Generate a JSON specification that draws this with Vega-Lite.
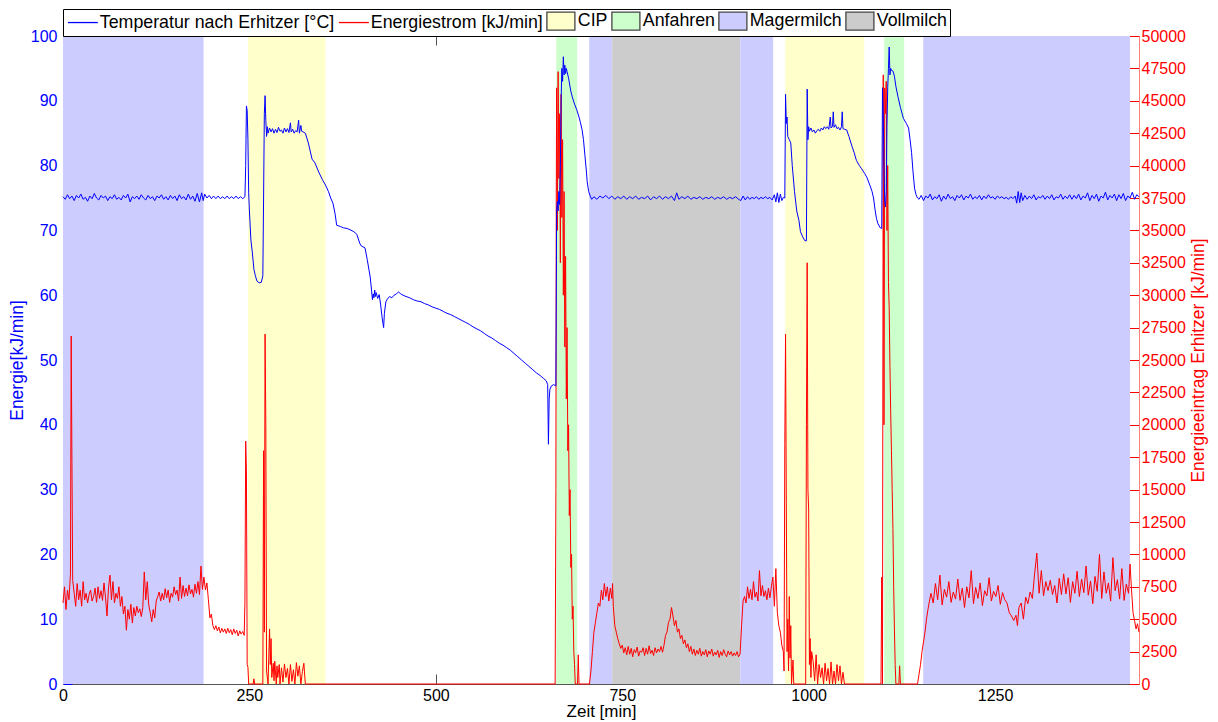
{
  "$schema": "https://vega.github.io/schema/vega-lite/v6.json",
  "width": 1076,
  "height": 648,
  "autosize": {"type": "none"},
  "padding": {"left": 63, "top": 36, "right": 79, "bottom": 38},
  "background": "#ffffff",
  "config": {
    "view": {"stroke": "#333333", "strokeWidth": 1},
    "font": "Liberation Sans",
    "axis": {
      "labelFont": "Liberation Sans",
      "titleFont": "Liberation Sans",
      "labelFontSize": 16,
      "titleFontSize": 17.5,
      "titleFontWeight": "normal",
      "grid": false,
      "labelFlush": false,
      "labelOverlap": false
    },
    "legend": {
      "title": null,
      "padding": 3,
      "strokeColor": "#000000",
      "fillColor": "#ffffff",
      "labelFont": "Liberation Sans",
      "labelFontSize": 17.8,
      "labelColor": "#000000",
      "labelLimit": 0,
      "symbolSize": 196,
      "symbolOffset": 8,
      "labelOffset": 8,
      "columnPadding": 1,
      "symbolStrokeWidth": 1.3,
      "symbolOpacity": 1
    }
  },
  "datasets": {
    "bands": [
      {"phase": "Magermilch", "start": 0, "end": 188.5},
      {"phase": "CIP", "start": 248, "end": 352},
      {"phase": "Anfahren", "start": 661.5, "end": 689.5},
      {"phase": "Magermilch", "start": 705.7, "end": 736.5},
      {"phase": "Vollmilch", "start": 736.5, "end": 908.2},
      {"phase": "Magermilch", "start": 908.2, "end": 952.4},
      {"phase": "CIP", "start": 968.5, "end": 1074.5},
      {"phase": "Anfahren", "start": 1101.3, "end": 1128.1},
      {"phase": "Magermilch", "start": 1153.6, "end": 1431}
    ],
    "temp": [
      {"t":0,"v":75.2},{"t":3,"v":74.8},{"t":6,"v":75.5},{"t":9,"v":74.9},{"t":12,"v":75.3},{"t":15,"v":74.6},{"t":18,"v":75.4},{"t":21,"v":75},{"t":24,"v":75.6},{"t":27,"v":74.8},{"t":30,"v":75.1},{"t":33,"v":74.5},{"t":36,"v":75.3},{"t":39,"v":74.9},{"t":42,"v":75.7},{"t":45,"v":75},{"t":48,"v":74.7},{"t":51,"v":75.4},{"t":54,"v":75},{"t":57,"v":75.3},{"t":60,"v":74.6},{"t":63,"v":75.2},{"t":66,"v":74.9},{"t":69,"v":75.5},{"t":72,"v":74.8},{"t":75,"v":75.1},{"t":78,"v":74.7},{"t":81,"v":75.4},{"t":84,"v":75},{"t":87,"v":75.6},{"t":90,"v":74.4},{"t":93,"v":75.2},{"t":96,"v":74.9},{"t":99,"v":75.3},{"t":102,"v":74.8},{"t":105,"v":75.5},{"t":108,"v":75},{"t":111,"v":74.7},{"t":114,"v":75.4},{"t":117,"v":74.9},{"t":120,"v":75.2},{"t":123,"v":74.6},{"t":126,"v":75.3},{"t":129,"v":75},{"t":132,"v":75.5},{"t":135,"v":74.8},{"t":138,"v":75.2},{"t":141,"v":74.7},{"t":144,"v":75.4},{"t":147,"v":74.9},{"t":150,"v":75.3},{"t":153,"v":74.6},{"t":156,"v":75.5},{"t":159,"v":74.9},{"t":162,"v":75.2},{"t":165,"v":74.7},{"t":168,"v":75.6},{"t":171,"v":74.8},{"t":174,"v":75.3},{"t":177,"v":74.5},{"t":180,"v":75.7},{"t":183,"v":74.4},{"t":186,"v":75.8},{"t":188,"v":74.6},{"t":190,"v":75.6},{"t":193,"v":75},{"t":196,"v":75.4},{"t":199,"v":74.9},{"t":202,"v":75.3},{"t":205,"v":74.9},{"t":208,"v":75.3},{"t":211,"v":74.9},{"t":214,"v":75.2},{"t":217,"v":74.9},{"t":220,"v":75.3},{"t":223,"v":74.9},{"t":226,"v":75.2},{"t":229,"v":74.9},{"t":232,"v":75.3},{"t":235,"v":74.9},{"t":238,"v":75.2},{"t":241,"v":74.9},{"t":244,"v":75.2},
      {"t":245,"v":80},{"t":246,"v":89.2},{"t":247,"v":88.5},{"t":248,"v":84},{"t":249,"v":75.8},{"t":250,"v":73},{"t":252,"v":68.5},{"t":254,"v":66.5},{"t":256,"v":64},{"t":258,"v":63},{"t":260,"v":62.2},{"t":263,"v":61.9},{"t":266,"v":62},{"t":268,"v":63},{"t":269,"v":75},{"t":270,"v":88},{"t":271,"v":90.8},{"t":272,"v":87},{"t":273,"v":84.5},{"t":274,"v":86},{"t":275,"v":85},{"t":277,"v":85.8},{"t":279,"v":85.2},{"t":281,"v":85.7},{"t":283,"v":85},{"t":285,"v":85.6},{"t":287,"v":85.1},{"t":289,"v":85.9},{"t":291,"v":85.3},{"t":293,"v":85.5},{"t":295,"v":85},{"t":297,"v":85.8},{"t":299,"v":85.2},{"t":301,"v":85.7},{"t":303,"v":85.1},{"t":305,"v":86.6},{"t":306,"v":85.2},{"t":308,"v":85.6},{"t":310,"v":85},{"t":312,"v":85.4},{"t":314,"v":85.2},{"t":316,"v":87},{"t":317,"v":85},{"t":319,"v":86.2},{"t":320,"v":85.3},{"t":322,"v":85.2},{"t":325,"v":85},{"t":329,"v":83.5},{"t":334,"v":81},{"t":338,"v":80.4},{"t":343,"v":79},{"t":348,"v":77.8},{"t":352,"v":77},{"t":356,"v":76},{"t":359,"v":75},{"t":362,"v":74.2},{"t":365,"v":72.5},{"t":367,"v":70.8},{"t":372,"v":70.6},{"t":376,"v":70.4},{"t":381,"v":70.3},{"t":385,"v":70.1},{"t":390,"v":69.8},{"t":394,"v":69.4},{"t":398,"v":68},{"t":400,"v":67.6},{"t":405,"v":67.3},{"t":408,"v":65.5},{"t":412,"v":62.8},{"t":414,"v":60.5},{"t":415,"v":59.3},{"t":416,"v":60.2},{"t":417,"v":59.6},{"t":418,"v":60.8},{"t":419,"v":59.8},{"t":420,"v":60.4},{"t":422,"v":59.5},{"t":424,"v":60.1},{"t":426,"v":58.5},{"t":428,"v":56.5},{"t":430,"v":55},{"t":431,"v":57.2},{"t":433,"v":59},{"t":435,"v":59.4},{"t":438,"v":59.8},{"t":441,"v":59.6},{"t":444,"v":60},{"t":447,"v":60.2},{"t":450,"v":60.5},{"t":453,"v":60.2},{"t":456,"v":60},{"t":460,"v":59.8},{"t":465,"v":59.6},{"t":470,"v":59.3},{"t":475,"v":59.1},{"t":480,"v":59},{"t":485,"v":58.7},{"t":490,"v":58.5},{"t":495,"v":58.2},{"t":500,"v":58},{"t":505,"v":57.8},{"t":510,"v":57.5},{"t":515,"v":57.2},{"t":520,"v":57},{"t":525,"v":56.7},{"t":530,"v":56.4},{"t":535,"v":56.1},{"t":540,"v":55.8},{"t":545,"v":55.5},{"t":550,"v":55.1},{"t":555,"v":54.8},{"t":560,"v":54.5},{"t":565,"v":54.1},{"t":570,"v":53.7},{"t":575,"v":53.4},{"t":580,"v":53},{"t":585,"v":52.6},{"t":590,"v":52.3},{"t":595,"v":51.9},{"t":600,"v":51.5},{"t":605,"v":51},{"t":610,"v":50.5},{"t":615,"v":50},{"t":620,"v":49.5},{"t":625,"v":49},{"t":630,"v":48.5},{"t":635,"v":48},{"t":640,"v":47.6},{"t":644,"v":47.2},{"t":648,"v":46.8},{"t":650,"v":46.2},{"t":651,"v":37},{"t":652,"v":44},{"t":653,"v":45.5},{"t":655,"v":46},{"t":658,"v":46.2},{"t":661,"v":46},{"t":662,"v":73},{"t":663,"v":74.5},{"t":664,"v":73},{"t":665,"v":76},{"t":666,"v":74},{"t":667,"v":80},{"t":668,"v":90},{"t":669,"v":95},{"t":670,"v":93},{"t":671,"v":96.8},{"t":672,"v":94},{"t":673,"v":95.5},{"t":674,"v":94.2},{"t":675,"v":95},{"t":676,"v":94.5},{"t":678,"v":93.5},{"t":681,"v":91.5},{"t":683,"v":90.6},{"t":686,"v":89.5},{"t":689,"v":88.6},{"t":692,"v":87.5},{"t":694,"v":86.6},{"t":696,"v":85.6},{"t":698,"v":84},{"t":700,"v":81.5},{"t":702,"v":79},{"t":703,"v":77.5},{"t":705,"v":76},{"t":707,"v":75.3},{"t":709,"v":74.8},
      {"t":712,"v":75.2},{"t":716,"v":74.8},{"t":720,"v":75.3},{"t":724,"v":75},{"t":728,"v":75.4},{"t":732,"v":74.9},{"t":736,"v":75.3},{"t":740,"v":74.8},{"t":744,"v":75.2},{"t":748,"v":74.9},{"t":752,"v":75.3},{"t":756,"v":74.8},{"t":760,"v":75.2},{"t":764,"v":74.9},{"t":768,"v":75.3},{"t":772,"v":74.8},{"t":776,"v":75.1},{"t":780,"v":74.9},{"t":784,"v":75.3},{"t":788,"v":74.7},{"t":792,"v":75.2},{"t":796,"v":74.9},{"t":800,"v":75.3},{"t":804,"v":74.8},{"t":808,"v":75.2},{"t":812,"v":74.9},{"t":816,"v":75.3},{"t":820,"v":74.6},{"t":823,"v":75.8},{"t":826,"v":74.8},{"t":830,"v":75.2},{"t":834,"v":74.9},{"t":838,"v":75.3},{"t":842,"v":74.8},{"t":846,"v":75.1},{"t":850,"v":74.9},{"t":854,"v":75.2},{"t":858,"v":74.8},{"t":862,"v":75.1},{"t":866,"v":74.9},{"t":870,"v":75.2},{"t":874,"v":74.8},{"t":878,"v":75.1},{"t":882,"v":74.9},{"t":886,"v":75.2},{"t":890,"v":74.8},{"t":894,"v":75.1},{"t":898,"v":74.9},{"t":902,"v":75.2},{"t":906,"v":74.8},{"t":909,"v":74.6},{"t":912,"v":75.3},{"t":915,"v":74.7},{"t":918,"v":75.2},{"t":921,"v":74.8},{"t":924,"v":75.1},{"t":927,"v":74.9},{"t":930,"v":75.2},{"t":933,"v":74.8},{"t":936,"v":75.1},{"t":939,"v":74.9},{"t":942,"v":75.2},{"t":945,"v":74.9},{"t":948,"v":75.1},{"t":951,"v":74.7},{"t":954,"v":75.5},{"t":956,"v":74.4},{"t":958,"v":75.8},{"t":960,"v":74.3},{"t":962,"v":75.6},{"t":964,"v":74.6},{"t":966,"v":75.1},{"t":968,"v":75},
      {"t":969,"v":91},{"t":970,"v":86.5},{"t":971,"v":87.5},{"t":972,"v":84.5},{"t":974,"v":84},{"t":976,"v":83.5},{"t":978,"v":80},{"t":981,"v":76},{"t":984,"v":73},{"t":987,"v":71.5},{"t":989,"v":69.8},{"t":992,"v":69},{"t":995,"v":68.4},{"t":997,"v":68.4},{"t":998,"v":91.8},{"t":999,"v":84},{"t":1000,"v":86},{"t":1001,"v":85.3},{"t":1003,"v":85.8},{"t":1005,"v":85.2},{"t":1007,"v":85.5},{"t":1009,"v":85},{"t":1011,"v":85.4},{"t":1013,"v":85.6},{"t":1015,"v":85.3},{"t":1017,"v":85.8},{"t":1019,"v":85.5},{"t":1021,"v":86},{"t":1023,"v":85.7},{"t":1025,"v":86},{"t":1027,"v":85.6},{"t":1029,"v":87.5},{"t":1030,"v":85.8},{"t":1032,"v":86.1},{"t":1033,"v":88.3},{"t":1034,"v":85.9},{"t":1036,"v":86.3},{"t":1038,"v":85.7},{"t":1040,"v":85.9},{"t":1042,"v":85.5},{"t":1044,"v":86},{"t":1045,"v":88.3},{"t":1046,"v":85.7},{"t":1048,"v":85.6},{"t":1051,"v":85.5},{"t":1054,"v":84.5},{"t":1058,"v":83},{"t":1061,"v":82},{"t":1064,"v":80.8},{"t":1068,"v":80},{"t":1071,"v":79.5},{"t":1075,"v":78.8},{"t":1078,"v":78.2},{"t":1081,"v":77.3},{"t":1083,"v":76.7},{"t":1085,"v":76},{"t":1087,"v":75},{"t":1089,"v":73.2},{"t":1091,"v":71.8},{"t":1093,"v":71},{"t":1096,"v":70.4},{"t":1098,"v":70.3},{"t":1099,"v":92},{"t":1100,"v":88},{"t":1101,"v":80},{"t":1102,"v":74.5},{"t":1103,"v":73.6},{"t":1104,"v":76},{"t":1105,"v":86},{"t":1106,"v":92},{"t":1107,"v":95},{"t":1108,"v":98.3},{"t":1109,"v":94},{"t":1110,"v":95},{"t":1111,"v":94.7},{"t":1113,"v":94.6},{"t":1115,"v":93.8},{"t":1117,"v":92.2},{"t":1120,"v":90.5},{"t":1123,"v":89},{"t":1127,"v":87.3},{"t":1131,"v":86.5},{"t":1134,"v":85.8},{"t":1136,"v":84},{"t":1138,"v":82},{"t":1140,"v":79},{"t":1142,"v":76.5},{"t":1144,"v":75.5},{"t":1146,"v":75},
      {"t":1148,"v":74.8},{"t":1151,"v":75.4},{"t":1154,"v":74.6},{"t":1157,"v":75.3},{"t":1160,"v":75},{"t":1163,"v":75.6},{"t":1166,"v":74.7},{"t":1169,"v":75.2},{"t":1172,"v":74.9},{"t":1175,"v":75.5},{"t":1178,"v":74.5},{"t":1181,"v":75.3},{"t":1184,"v":74.8},{"t":1187,"v":75.6},{"t":1190,"v":74.9},{"t":1193,"v":75.2},{"t":1196,"v":74.6},{"t":1199,"v":75.4},{"t":1202,"v":75},{"t":1205,"v":75.5},{"t":1208,"v":74.7},{"t":1211,"v":75.3},{"t":1214,"v":75},{"t":1217,"v":75.6},{"t":1220,"v":74.8},{"t":1223,"v":75.2},{"t":1226,"v":74.9},{"t":1229,"v":75.4},{"t":1232,"v":74.7},{"t":1235,"v":75.3},{"t":1238,"v":74.9},{"t":1241,"v":75.5},{"t":1244,"v":75},{"t":1247,"v":75.2},{"t":1250,"v":74.8},{"t":1253,"v":75.3},{"t":1256,"v":75},{"t":1259,"v":75.2},{"t":1262,"v":74.9},{"t":1265,"v":75.1},{"t":1268,"v":74.8},{"t":1271,"v":75.2},{"t":1274,"v":74.9},{"t":1277,"v":75.3},{"t":1279,"v":74.2},{"t":1281,"v":76},{"t":1283,"v":74.3},{"t":1285,"v":75.8},{"t":1287,"v":74.6},{"t":1290,"v":75.4},{"t":1293,"v":74.8},{"t":1296,"v":75.3},{"t":1299,"v":74.9},{"t":1302,"v":75.5},{"t":1305,"v":74.7},{"t":1308,"v":75.2},{"t":1311,"v":75},{"t":1314,"v":75.4},{"t":1317,"v":74.8},{"t":1320,"v":75.3},{"t":1323,"v":74.9},{"t":1326,"v":75.5},{"t":1329,"v":74.7},{"t":1332,"v":75.2},{"t":1335,"v":75},{"t":1338,"v":75.6},{"t":1341,"v":74.8},{"t":1344,"v":75.3},{"t":1347,"v":74.9},{"t":1350,"v":75.5},{"t":1353,"v":74.8},{"t":1356,"v":75.4},{"t":1359,"v":74.9},{"t":1362,"v":75.6},{"t":1365,"v":74.7},{"t":1368,"v":75.3},{"t":1371,"v":75},{"t":1374,"v":75.8},{"t":1377,"v":74.6},{"t":1380,"v":75.4},{"t":1383,"v":74.9},{"t":1386,"v":75.6},{"t":1389,"v":74.5},{"t":1392,"v":75.3},{"t":1395,"v":75},{"t":1398,"v":75.9},{"t":1401,"v":74.7},{"t":1404,"v":75.4},{"t":1407,"v":75},{"t":1410,"v":75.6},{"t":1413,"v":74.6},{"t":1416,"v":75.5},{"t":1419,"v":74.9},{"t":1422,"v":75.7},{"t":1425,"v":74.6},{"t":1428,"v":75.3},{"t":1431,"v":75},{"t":1434,"v":75.9},{"t":1437,"v":74.8},{"t":1440,"v":75.5},{"t":1443,"v":75.2}
    ],
    "energy": [
      {"t":0,"v":6250},{"t":2,"v":7500},{"t":4,"v":5750},{"t":6,"v":7250},{"t":8,"v":6500},{"t":10,"v":8500},{"t":11,"v":26850},{"t":12,"v":17000},{"t":13,"v":8000},{"t":15,"v":7000},{"t":17,"v":6000},{"t":19,"v":7750},{"t":21,"v":6500},{"t":23,"v":7250},{"t":25,"v":6000},{"t":27,"v":7900},{"t":29,"v":6500},{"t":31,"v":7000},{"t":33,"v":6250},{"t":35,"v":6900},{"t":37,"v":7250},{"t":39,"v":6400},{"t":41,"v":6750},{"t":43,"v":7400},{"t":45,"v":6300},{"t":47,"v":7500},{"t":49,"v":6600},{"t":51,"v":7200},{"t":53,"v":6450},{"t":55,"v":7800},{"t":57,"v":6700},{"t":59,"v":5250},{"t":61,"v":7400},{"t":63,"v":8400},{"t":65,"v":6500},{"t":67,"v":7900},{"t":69,"v":6250},{"t":71,"v":7000},{"t":73,"v":6600},{"t":75,"v":7500},{"t":77,"v":6000},{"t":79,"v":6750},{"t":81,"v":5400},{"t":83,"v":6000},{"t":85,"v":4150},{"t":87,"v":5750},{"t":89,"v":5000},{"t":91,"v":6150},{"t":93,"v":4700},{"t":95,"v":5900},{"t":97,"v":5250},{"t":99,"v":6000},{"t":101,"v":5500},{"t":103,"v":5800},{"t":105,"v":5200},{"t":107,"v":5900},{"t":109,"v":8650},{"t":111,"v":6500},{"t":113,"v":7900},{"t":115,"v":6100},{"t":117,"v":5500},{"t":119,"v":4800},{"t":121,"v":5750},{"t":123,"v":5100},{"t":125,"v":6400},{"t":127,"v":6750},{"t":129,"v":7100},{"t":131,"v":6400},{"t":133,"v":7000},{"t":135,"v":6500},{"t":137,"v":7350},{"t":139,"v":6650},{"t":141,"v":7250},{"t":143,"v":6300},{"t":145,"v":7000},{"t":147,"v":6700},{"t":149,"v":7500},{"t":151,"v":6900},{"t":153,"v":7250},{"t":155,"v":6400},{"t":157,"v":8250},{"t":159,"v":6600},{"t":161,"v":7600},{"t":163,"v":6750},{"t":165,"v":7400},{"t":167,"v":6800},{"t":169,"v":7650},{"t":171,"v":6950},{"t":173,"v":7300},{"t":175,"v":6700},{"t":177,"v":7700},{"t":179,"v":7000},{"t":181,"v":7900},{"t":183,"v":6900},{"t":185,"v":9100},{"t":187,"v":7300},{"t":189,"v":8250},{"t":191,"v":7250},{"t":193,"v":7800},{"t":195,"v":6500},{"t":197,"v":5100},{"t":199,"v":5400},{"t":201,"v":4500},{"t":203,"v":4200},{"t":205,"v":4500},{"t":207,"v":4100},{"t":209,"v":4400},{"t":211,"v":3950},{"t":213,"v":4300},{"t":215,"v":4000},{"t":217,"v":4250},{"t":219,"v":3900},{"t":221,"v":4300},{"t":223,"v":3950},{"t":225,"v":4200},{"t":227,"v":3800},{"t":229,"v":4250},{"t":231,"v":3900},{"t":233,"v":4150},{"t":235,"v":3700},{"t":237,"v":4100},{"t":239,"v":3850},{"t":241,"v":4050},{"t":243,"v":3750},{"t":244,"v":6400},{"t":245,"v":18750},{"t":246,"v":16500},{"t":247,"v":1500},{"t":248,"v":1300},{"t":249,"v":0},{"t":255,"v":0},{"t":256,"v":400},{"t":257,"v":0},{"t":268,"v":0},{"t":269,"v":18000},{"t":270,"v":4000},{"t":271,"v":27000},{"t":272,"v":20000},{"t":273,"v":1000},{"t":275,"v":0},{"t":277,"v":4250},{"t":278,"v":1500},{"t":279,"v":3500},{"t":280,"v":500},{"t":282,"v":1600},{"t":283,"v":250},{"t":284,"v":1750},{"t":286,"v":0},{"t":287,"v":1400},{"t":288,"v":500},{"t":290,"v":1500},{"t":291,"v":0},{"t":293,"v":1250},{"t":295,"v":150},{"t":297,"v":1550},{"t":299,"v":500},{"t":301,"v":1200},{"t":303,"v":0},{"t":305,"v":1500},{"t":307,"v":200},{"t":309,"v":1100},{"t":311,"v":0},{"t":313,"v":1650},{"t":315,"v":600},{"t":317,"v":1400},{"t":319,"v":0},{"t":321,"v":950},{"t":323,"v":1600},{"t":325,"v":0},{"t":660,"v":0},
      {"t":661,"v":15000},{"t":661.5,"v":37500},{"t":662,"v":46000},{"t":663,"v":35000},{"t":664,"v":47250},{"t":665,"v":39000},{"t":666,"v":44000},{"t":667,"v":32500},{"t":668,"v":45500},{"t":669,"v":36000},{"t":670,"v":42000},{"t":671,"v":30000},{"t":672,"v":38000},{"t":673,"v":26000},{"t":674,"v":33000},{"t":675,"v":22000},{"t":676,"v":27500},{"t":677,"v":18000},{"t":678,"v":20000},{"t":679,"v":13000},{"t":680,"v":15000},{"t":681,"v":9000},{"t":682,"v":10000},{"t":683,"v":5000},{"t":684,"v":6000},{"t":685,"v":2500},{"t":686,"v":1500},{"t":687,"v":0},{"t":690,"v":0},{"t":691,"v":2250},{"t":692,"v":0},{"t":706,"v":0},{"t":708,"v":1000},{"t":710,"v":2500},{"t":712,"v":4000},{"t":714,"v":4750},{"t":716,"v":5500},{"t":718,"v":6250},{"t":720,"v":6000},{"t":722,"v":7250},{"t":724,"v":6500},{"t":726,"v":7750},{"t":728,"v":6750},{"t":730,"v":7500},{"t":732,"v":6400},{"t":734,"v":7400},{"t":736,"v":6600},{"t":737,"v":7750},{"t":738,"v":6000},{"t":740,"v":4500},{"t":742,"v":4000},{"t":744,"v":3500},{"t":746,"v":3100},{"t":748,"v":2750},{"t":750,"v":3000},{"t":752,"v":2400},{"t":754,"v":2800},{"t":756,"v":2250},{"t":758,"v":2900},{"t":760,"v":2300},{"t":762,"v":2750},{"t":764,"v":2100},{"t":766,"v":2650},{"t":768,"v":2400},{"t":770,"v":2850},{"t":772,"v":2150},{"t":774,"v":2550},{"t":776,"v":2450},{"t":778,"v":2800},{"t":780,"v":2200},{"t":782,"v":2750},{"t":784,"v":2300},{"t":786,"v":2950},{"t":788,"v":2350},{"t":790,"v":2600},{"t":792,"v":2200},{"t":794,"v":2800},{"t":796,"v":2400},{"t":798,"v":2700},{"t":800,"v":2500},{"t":802,"v":2900},{"t":804,"v":2450},{"t":806,"v":3000},{"t":808,"v":3750},{"t":810,"v":4000},{"t":812,"v":4750},{"t":814,"v":5000},{"t":816,"v":5900},{"t":818,"v":5250},{"t":820,"v":4500},{"t":822,"v":4900},{"t":824,"v":4000},{"t":826,"v":4250},{"t":828,"v":3500},{"t":830,"v":3750},{"t":832,"v":3100},{"t":834,"v":3400},{"t":836,"v":2800},{"t":838,"v":3100},{"t":840,"v":2500},{"t":842,"v":2900},{"t":844,"v":2300},{"t":846,"v":2700},{"t":848,"v":2200},{"t":850,"v":2600},{"t":852,"v":2300},{"t":854,"v":2750},{"t":856,"v":2150},{"t":858,"v":2500},{"t":860,"v":2250},{"t":862,"v":2650},{"t":864,"v":2100},{"t":866,"v":2550},{"t":868,"v":2300},{"t":870,"v":2700},{"t":872,"v":2150},{"t":874,"v":2450},{"t":876,"v":2250},{"t":878,"v":2600},{"t":880,"v":2050},{"t":882,"v":2500},{"t":884,"v":2200},{"t":886,"v":2650},{"t":888,"v":2300},{"t":890,"v":2100},{"t":892,"v":2550},{"t":894,"v":2250},{"t":896,"v":2500},{"t":898,"v":2150},{"t":900,"v":2400},{"t":902,"v":2200},{"t":904,"v":2500},{"t":906,"v":2100},{"t":908,"v":2300},{"t":910,"v":4500},{"t":912,"v":6400},{"t":914,"v":6750},{"t":916,"v":6250},{"t":918,"v":7500},{"t":920,"v":6600},{"t":922,"v":7300},{"t":924,"v":6500},{"t":926,"v":7900},{"t":928,"v":6700},{"t":930,"v":7100},{"t":932,"v":6400},{"t":934,"v":8750},{"t":936,"v":6800},{"t":938,"v":7600},{"t":940,"v":6750},{"t":942,"v":7200},{"t":944,"v":6500},{"t":946,"v":7400},{"t":948,"v":6650},{"t":950,"v":7500},{"t":952,"v":8250},{"t":954,"v":6000},{"t":956,"v":8900},{"t":958,"v":5500},{"t":960,"v":4500},{"t":962,"v":4000},{"t":964,"v":3000},{"t":966,"v":2500},{"t":967,"v":1000},{"t":968,"v":18500},{"t":969,"v":27000},{"t":970,"v":14000},{"t":971,"v":2500},{"t":972,"v":5000},{"t":973,"v":1000},{"t":974,"v":6750},{"t":975,"v":2000},{"t":976,"v":4500},{"t":977,"v":0},{"t":979,"v":1850},{"t":980,"v":0},{"t":996,"v":0},{"t":997,"v":20000},{"t":998,"v":32500},{"t":999,"v":15000},{"t":1000,"v":13500},{"t":1001,"v":1500},{"t":1002,"v":3500},{"t":1003,"v":500},{"t":1004,"v":2500},{"t":1006,"v":1750},{"t":1008,"v":250},{"t":1010,"v":2250},{"t":1012,"v":0},{"t":1014,"v":1500},{"t":1016,"v":500},{"t":1018,"v":1250},{"t":1020,"v":0},{"t":1022,"v":1600},{"t":1024,"v":250},{"t":1026,"v":1200},{"t":1028,"v":0},{"t":1030,"v":1700},{"t":1032,"v":0},{"t":1034,"v":1000},{"t":1036,"v":0},{"t":1038,"v":1500},{"t":1040,"v":250},{"t":1042,"v":1400},{"t":1044,"v":0},{"t":1046,"v":900},{"t":1048,"v":0},{"t":1097,"v":0},{"t":1098,"v":8250},{"t":1099,"v":0},{"t":1100,"v":47000},{"t":1101,"v":20000},{"t":1102,"v":46000},{"t":1103,"v":44000},{"t":1104,"v":46500},{"t":1105,"v":35000},{"t":1106,"v":40000},{"t":1107,"v":31000},{"t":1108,"v":29000},{"t":1109,"v":24500},{"t":1110,"v":21000},{"t":1111,"v":18000},{"t":1112,"v":15000},{"t":1113,"v":12000},{"t":1114,"v":7500},{"t":1115,"v":4250},{"t":1116,"v":1500},{"t":1117,"v":0},{"t":1121,"v":0},{"t":1122,"v":1400},{"t":1123,"v":0},{"t":1146,"v":0},{"t":1148,"v":750},{"t":1150,"v":1500},{"t":1152,"v":2500},{"t":1154,"v":3250},{"t":1156,"v":4000},{"t":1158,"v":5000},{"t":1160,"v":5750},{"t":1162,"v":6400},{"t":1164,"v":7000},{"t":1167,"v":6250},{"t":1170,"v":7750},{"t":1173,"v":6500},{"t":1176,"v":8400},{"t":1179,"v":6100},{"t":1182,"v":7300},{"t":1185,"v":6700},{"t":1188,"v":7900},{"t":1191,"v":6300},{"t":1194,"v":7100},{"t":1197,"v":6550},{"t":1200,"v":8100},{"t":1203,"v":6450},{"t":1206,"v":7400},{"t":1209,"v":5900},{"t":1212,"v":7500},{"t":1215,"v":6650},{"t":1218,"v":8750},{"t":1221,"v":6200},{"t":1224,"v":7450},{"t":1227,"v":6600},{"t":1230,"v":7800},{"t":1233,"v":6050},{"t":1236,"v":7200},{"t":1239,"v":6800},{"t":1242,"v":8200},{"t":1245,"v":6400},{"t":1248,"v":7150},{"t":1251,"v":6750},{"t":1254,"v":7600},{"t":1257,"v":6150},{"t":1260,"v":7050},{"t":1263,"v":6500},{"t":1266,"v":6250},{"t":1269,"v":5500},{"t":1272,"v":5250},{"t":1275,"v":4900},{"t":1278,"v":5300},{"t":1280,"v":4500},{"t":1282,"v":5900},{"t":1285,"v":6250},{"t":1288,"v":5000},{"t":1291,"v":6700},{"t":1294,"v":6200},{"t":1297,"v":7100},{"t":1300,"v":6600},{"t":1303,"v":8500},{"t":1306,"v":10100},{"t":1309,"v":7000},{"t":1312,"v":8750},{"t":1315,"v":6800},{"t":1318,"v":7900},{"t":1321,"v":7200},{"t":1324,"v":8000},{"t":1327,"v":6900},{"t":1330,"v":7600},{"t":1333,"v":6250},{"t":1336,"v":8150},{"t":1339,"v":6900},{"t":1342,"v":8500},{"t":1345,"v":6950},{"t":1348,"v":8200},{"t":1351,"v":6300},{"t":1354,"v":7900},{"t":1357,"v":7000},{"t":1360,"v":8700},{"t":1363,"v":6750},{"t":1366,"v":8100},{"t":1369,"v":7050},{"t":1372,"v":9100},{"t":1375,"v":6850},{"t":1378,"v":7950},{"t":1381,"v":6200},{"t":1384,"v":8300},{"t":1387,"v":7150},{"t":1390,"v":10000},{"t":1393,"v":6600},{"t":1396,"v":8650},{"t":1399,"v":7000},{"t":1402,"v":7800},{"t":1405,"v":6400},{"t":1408,"v":9750},{"t":1411,"v":7200},{"t":1414,"v":8050},{"t":1417,"v":6550},{"t":1420,"v":8900},{"t":1423,"v":6450},{"t":1426,"v":7700},{"t":1429,"v":7000},{"t":1431,"v":9250},{"t":1433,"v":7250},{"t":1435,"v":5500},{"t":1437,"v":4900},{"t":1439,"v":4250},{"t":1441,"v":4650},{"t":1443,"v":4000}
    ]
  },
  "layer": [
    {
      "data": {"name": "bands"},
      "mark": {"type": "rect", "opacity": 1},
      "encoding": {
        "x": {
          "field": "start", "type": "quantitative",
          "scale": {"domain": [0, 1443], "nice": false, "zero": false},
          "axis": {
            "orient": "bottom", "title": "Zeit [min]", "titleColor": "#000000", "titlePadding": 0, "titleFontSize": 17,
            "values": [0, 250, 500, 750, 1000, 1250], "format": "d",
            "labelColor": "#000000", "tickColor": "#555555", "domainColor": "#555555",
            "tickSize": -10, "labelPadding": 13
          }
        },
        "x2": {"field": "end"},
        "color": {
          "field": "phase", "type": "nominal",
          "scale": {
            "domain": ["Temperatur nach Erhitzer [°C]", "Energiestrom [kJ/min]", "CIP", "Anfahren", "Magermilch", "Vollmilch"],
            "range": ["#0000ff", "#ff0000", "#ffffcc", "#ccffcc", "#ccccff", "#cccccc"]
          },
          "legend": {"orient": "none", "direction": "horizontal", "legendX": 0, "legendY": -27}
        }
      }
    },
    {
      "data": {"values": []},
      "mark": {"type": "point", "filled": false},
      "encoding": {
        "shape": {
          "field": "phase", "type": "nominal",
          "scale": {
            "domain": ["Temperatur nach Erhitzer [°C]", "Energiestrom [kJ/min]", "CIP", "Anfahren", "Magermilch", "Vollmilch"],
            "range": ["M-2.14,0L2.14,0", "M-2.14,0L2.14,0", "M-2,-1.28L2,-1.28L2,1.28L-2,1.28Z", "M-2,-1.28L2,-1.28L2,1.28L-2,1.28Z", "M-2,-1.28L2,-1.28L2,1.28L-2,1.28Z", "M-2,-1.28L2,-1.28L2,1.28L-2,1.28Z"]
          },
          "legend": {"orient": "none", "direction": "horizontal", "legendX": 0, "legendY": -27}
        },
        "stroke": {
          "field": "phase", "type": "nominal",
          "scale": {
            "domain": ["Temperatur nach Erhitzer [°C]", "Energiestrom [kJ/min]", "CIP", "Anfahren", "Magermilch", "Vollmilch"],
            "range": ["#0000ff", "#ff0000", "#444444", "#444444", "#444444", "#444444"]
          },
          "legend": {"orient": "none", "direction": "horizontal", "legendX": 0, "legendY": -27}
        }
      }
    },
    {
      "data": {"name": "energy"},
      "mark": {"type": "line", "color": "#ff0000", "strokeWidth": 1},
      "encoding": {
        "x": {"field": "t", "type": "quantitative", "scale": {"domain": [0, 1443], "nice": false, "zero": false}, "axis": null},
        "y": {
          "field": "v", "type": "quantitative",
          "scale": {"domain": [0, 50000], "nice": false},
          "axis": {
            "orient": "right", "title": "Energieeintrag Erhitzer [kJ/min]", "titleColor": "#ff0000", "titleAngle": 270, "titleBaseline": "top", "titlePadding": 4,
            "values": [0, 2500, 5000, 7500, 10000, 12500, 15000, 17500, 20000, 22500, 25000, 27500, 30000, 32500, 35000, 37500, 40000, 42500, 45000, 47500, 50000],
            "format": "d",
            "labelColor": "#ff0000", "tickColor": "#ff0000", "domainColor": "#ff8080",
            "tickSize": -10, "labelPadding": 12
          }
        }
      }
    },
    {
      "data": {"name": "temp"},
      "mark": {"type": "line", "color": "#0000ff", "strokeWidth": 1},
      "encoding": {
        "x": {
          "field": "t", "type": "quantitative",
          "scale": {"domain": [0, 1443], "nice": false, "zero": false},
          "axis": {
            "orient": "top", "title": null, "labels": false,
            "values": [0, 250, 500, 750, 1000, 1250],
            "tickColor": "#555555", "domainColor": "#555555", "tickSize": -9
          }
        },
        "y": {
          "field": "v", "type": "quantitative",
          "scale": {"domain": [0, 100], "nice": false},
          "axis": {
            "orient": "left", "title": "Energie[kJ/min]", "titleColor": "#0000ff", "titlePadding": 4,
            "values": [0, 10, 20, 30, 40, 50, 60, 70, 80, 90, 100],
            "labelColor": "#0000ff", "tickColor": "#0000ff", "domainColor": "#7f7fff",
            "tickSize": -9, "labelPadding": 15
          }
        }
      }
    }
  ],
  "resolve": {
    "scale": {"y": "independent"},
    "axis": {"x": "independent", "y": "independent"}
  }
}
